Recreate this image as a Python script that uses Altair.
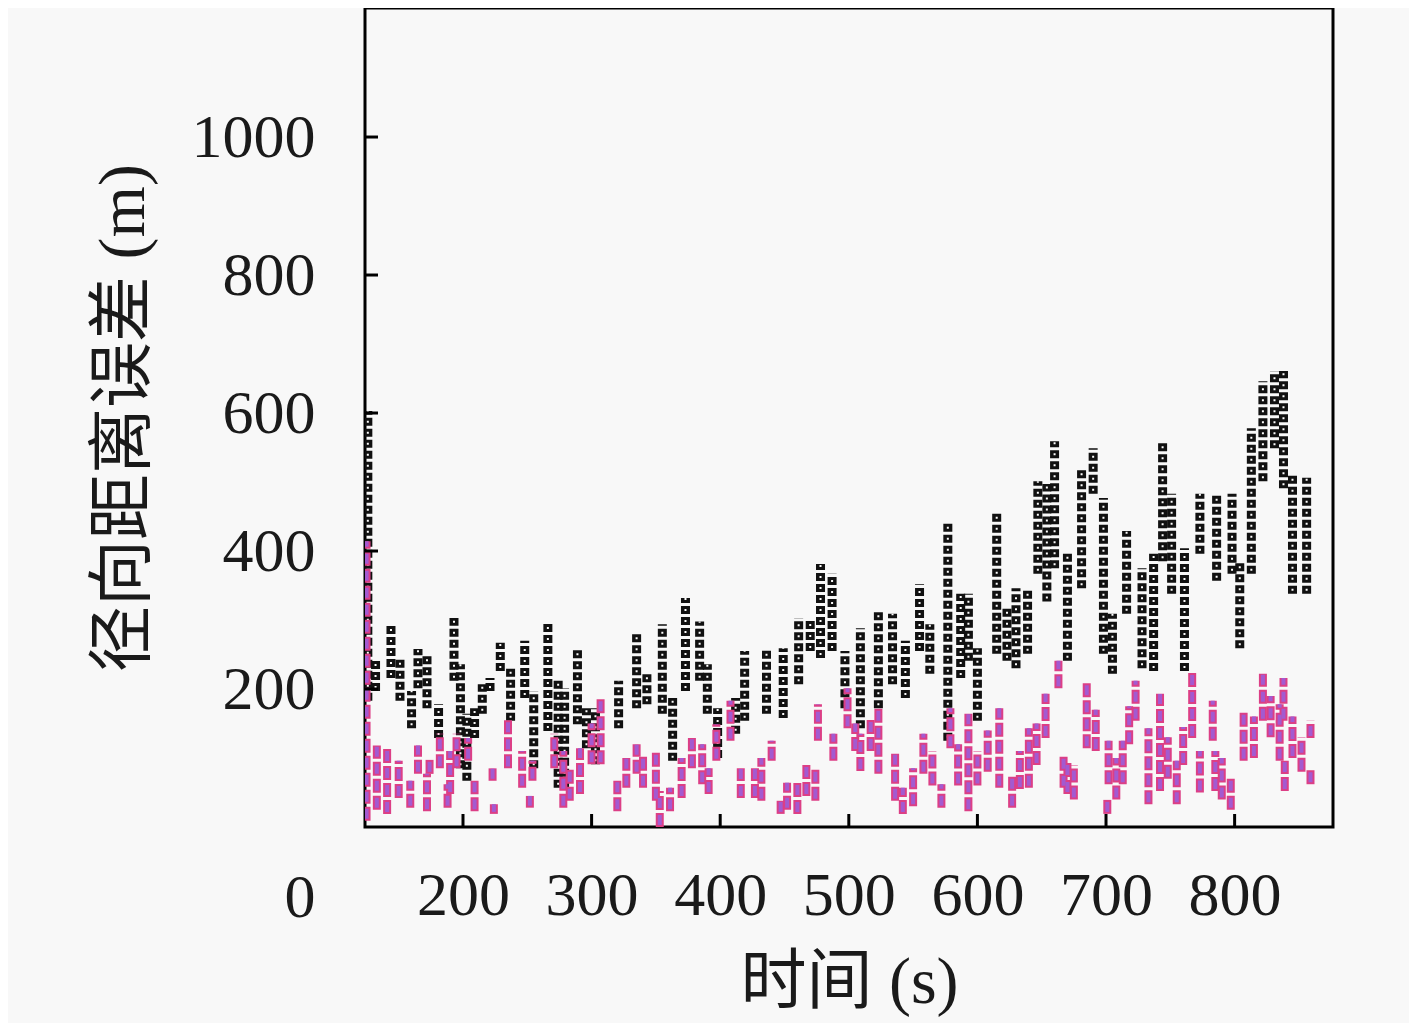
import altair as alt
import pandas as pd

# black series: vertical runs of markers (time s, upper m, lower m)
black_t = [126,132,144,151,160,165,172,181,193,198,203,209,215,221,229,237,248,255,266,274,
           279,289,296,303,321,335,343,355,363,373,384,390,398,412,419,436,449,461,470,478,
           487,497,509,523,534,544,555,563,577,587,593,600,615,623,630,639,647,654,660,670,
           681,690,698,705,716,728,737,744,751,761,773,786,798,804,813,822,831,838,845,856]
black_hi = [603,241,294,245,197,258,248,178,303,236,164,172,207,216,267,230,270,197,298,212,
            201,259,172,172,212,280,222,294,187,332,298,236,172,187,255,259,259,303,303,381,
            367,255,288,313,309,270,352,294,443,338,338,259,454,317,346,346,501,497,559,396,
            520,549,477,309,429,375,396,559,483,404,483,483,483,385,578,646,661,661,512,506]
black_lo = [183,197,216,183,143,201,172,129,212,85,67,129,164,197,226,154,187,85,139,57,
            57,149,114,91,143,172,178,164,96,197,212,164,100,135,154,164,158,207,255,245,
            255,172,143,172,207,187,255,222,125,216,241,154,251,241,230,251,367,327,375,241,
            346,483,251,222,309,230,226,385,338,226,396,357,367,259,367,501,549,491,338,338]

# magenta series: vertical runs of markers (time s, upper m, lower m)
pink_t = [125,133,141,150,159,165,172,174,182,188,190,195,204,209,223,224,235,246,252,254,
          271,278,283,291,300,307,320,327,335,340,350,353,361,370,378,386,391,397,408,416,
          427,432,440,447,452,460,467,474,476,488,499,505,509,517,523,536,542,550,558,565,
          572,579,585,593,600,608,617,627,633,640,646,653,663,667,670,675,685,692,701,702,
          708,713,718,723,733,742,748,755,760,767,773,783,785,790,797,807,815,822,828,835,
          838,839,845,852,859,859]
pink_hi = [414,118,114,96,67,118,77,100,135,62,110,135,129,67,85,33,158,110,45,96,
           135,110,85,114,150,187,67,100,120,106,110,52,57,100,129,120,85,149,183,85,
           85,100,125,38,64,67,90,85,178,135,201,150,135,155,172,106,57,85,135,110,
           62,172,120,164,110,140,172,77,110,143,150,193,241,106,96,90,212,170,42,125,
           100,125,175,212,143,193,130,96,145,226,110,183,110,100,70,168,160,222,190,178,
           216,96,160,130,154,85]
pink_lo = [9,25,19,42,28,77,23,77,85,28,48,85,96,23,67,19,85,57,28,67,
           85,28,38,48,91,91,23,57,77,57,38,0,23,42,85,62,48,96,125,42,
           42,38,96,19,25,19,45,38,125,96,143,110,81,110,77,38,19,30,77,60,
           28,114,60,23,60,80,57,28,55,57,90,129,201,57,48,40,114,110,19,62,
           40,62,120,154,33,52,70,33,90,129,50,125,52,40,25,96,100,154,130,96,
           154,52,100,80,129,62]

x_ticks = [200, 300, 400, 500, 600, 700, 800]
y_ticks = [0, 200, 400, 600, 800, 1000]

black = pd.DataFrame({"t": black_t, "hi": black_hi, "lo": black_lo})
pink = pd.DataFrame({"t": pink_t, "hi": pink_hi, "lo": pink_lo})

W, H = 968, 819
LAT = "Liberation Serif, Noto Sans CJK SC"

xs = alt.Scale(domain=[123.8, 876.5], nice=False, zero=False)
ys = alt.Scale(domain=[0, 1187], nice=False)

xaxis = alt.Axis(values=x_ticks, title="时间 (s)", grid=False, ticks=False, tickSize=0,
                 domain=False, labelPadding=38, titlePadding=24, format="d")
yaxis = alt.Axis(values=y_ticks, title="径向距离误差 (m)", grid=False, ticks=False, tickSize=0,
                 domain=False, labelPadding=50, titlePadding=34, format="d",
                 labelOffset={"condition": {"test": "datum.value == 0", "value": 70}, "value": 0})

b_outer = alt.Chart(black).mark_rule(color="#111111", strokeWidth=9, strokeDash=[8, 3],
                                     strokeCap="butt", clip=True).encode(
    x=alt.X("t:Q", scale=xs, axis=xaxis),
    y=alt.Y("lo:Q", scale=ys, axis=yaxis),
    y2="hi:Q",
)
b_inner = alt.Chart(black).mark_rule(color="white", strokeWidth=2, strokeDash=[2, 9],
                                     strokeDashOffset=8, strokeCap="butt", clip=True).encode(
    x=alt.X("t:Q", scale=xs), y=alt.Y("lo:Q", scale=ys), y2="hi:Q")

p_outer = alt.Chart(pink).mark_rule(color="#dc3f86", strokeWidth=8, strokeDash=[14, 3],
                                    strokeCap="butt", clip=True).encode(
    x=alt.X("t:Q", scale=xs), y=alt.Y("lo:Q", scale=ys), y2="hi:Q")
p_inner = alt.Chart(pink).mark_rule(color="#a35ad0", strokeWidth=4, strokeDash=[10, 7],
                                    strokeDashOffset=15, strokeCap="butt", clip=True).encode(
    x=alt.X("t:Q", scale=xs), y=alt.Y("lo:Q", scale=ys), y2="hi:Q")

xt = alt.Chart(pd.DataFrame({"v": x_ticks})).mark_rule(color="black", strokeWidth=3).encode(
    x=alt.X("v:Q", scale=xs), y=alt.value(H - 13), y2=alt.value(H))
yt = alt.Chart(pd.DataFrame({"v": y_ticks[1:]})).mark_rule(color="black", strokeWidth=3).encode(
    y=alt.Y("v:Q", scale=ys), x=alt.value(0), x2=alt.value(13))

chart = alt.layer(b_outer, b_inner, p_outer, p_inner, xt, yt).properties(
    width=W, height=H,
    autosize=alt.AutoSizeParams(type="none"),
    padding={"left": 357, "top": 0, "right": 76, "bottom": 196},
    background="#f8f8f8",
).configure_view(stroke="black", strokeWidth=3).configure_axis(
    labelFont="Liberation Serif", labelFontSize=62, labelColor="#1a1a1a",
    titleFont=LAT, titleFontSize=66, titleFontWeight="normal", titleColor="#1a1a1a",
)

chart.save("out.html", embed_options={"renderer": "svg", "actions": False})
